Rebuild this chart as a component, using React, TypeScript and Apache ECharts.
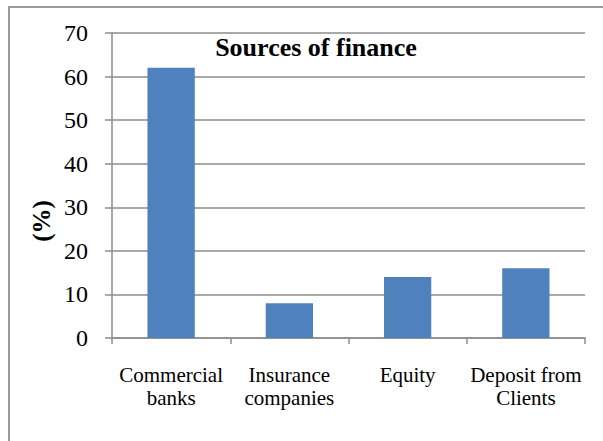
import React, { useEffect, useRef } from "react";
import * as echarts from "echarts";

const categories = ["Commercial\nbanks", "Insurance\ncompanies", "Equity", "Deposit from\nClients"];
const values = [62, 8, 14, 16];
const yTicks = { min: 0, max: 70, interval: 10 };
const titleText = "Sources of finance";
const yName = "(%)";
const FONT = "'Liberation Serif', 'Times New Roman', serif";

export default function App() {
  const ref = useRef<HTMLDivElement>(null);
  useEffect(() => {
    const chart = echarts.init(ref.current!, null, { renderer: "svg" });
    chart.setOption({
      animation: false,
      textStyle: { fontFamily: FONT },
      title: {
        text: titleText,
        left: 311,
        top: 29,
        textAlign: "center",
        textStyle: { fontFamily: FONT, fontWeight: "bold", fontSize: 26, color: "#000" },
      },
      graphic: [
        {
          type: "text",
          x: 41,
          y: 221,
          rotation: Math.PI / 2,
          style: {
            text: yName,
            fontFamily: FONT,
            fontWeight: "bold",
            fontSize: 25,
            fill: "#000",
            textAlign: "center",
            textVerticalAlign: "middle",
          },
        },
      ],
      grid: { left: 112, right: 18, top: 33, bottom: 103 },
      xAxis: {
        type: "category",
        data: categories,
        axisLine: { lineStyle: { color: "#8c8c8c", width: 1.5 } },
        axisTick: { show: true, length: 6, lineStyle: { color: "#8c8c8c", width: 1.5 } },
        axisLabel: {
          interval: 0,
          margin: 25,
          fontFamily: FONT,
          fontSize: 21,
          lineHeight: 23,
          color: "#000",
        },
      },
      yAxis: {
        type: "value",
        min: yTicks.min,
        max: yTicks.max,
        interval: yTicks.interval,
        axisLine: { show: true, lineStyle: { color: "#8c8c8c", width: 1.5 } },
        axisTick: { show: true, length: 7, lineStyle: { color: "#8c8c8c", width: 1.5 } },
        splitLine: { lineStyle: { color: "#8c8c8c", width: 1.5 } },
        axisLabel: { margin: 24, fontFamily: FONT, fontSize: 24, color: "#000" },
      },
      series: [
        {
          type: "bar",
          data: values,
          barWidth: "40%",
          itemStyle: { color: "#4F81BD" },
        },
      ],
    });
    return () => chart.dispose();
  }, []);
  return (
    <div style={{ position: "fixed", left: 0, top: 0, width: 603, height: 441, background: "#fff" }}>
      <div
        style={{
          position: "absolute",
          left: 8,
          top: 6,
          width: 620,
          height: 460,
          border: "2px solid #9a9a9a",
          boxSizing: "border-box",
        }}
      />
      <div ref={ref} style={{ position: "absolute", left: 0, top: 0, width: 603, height: 441 }} />
    </div>
  );
}
